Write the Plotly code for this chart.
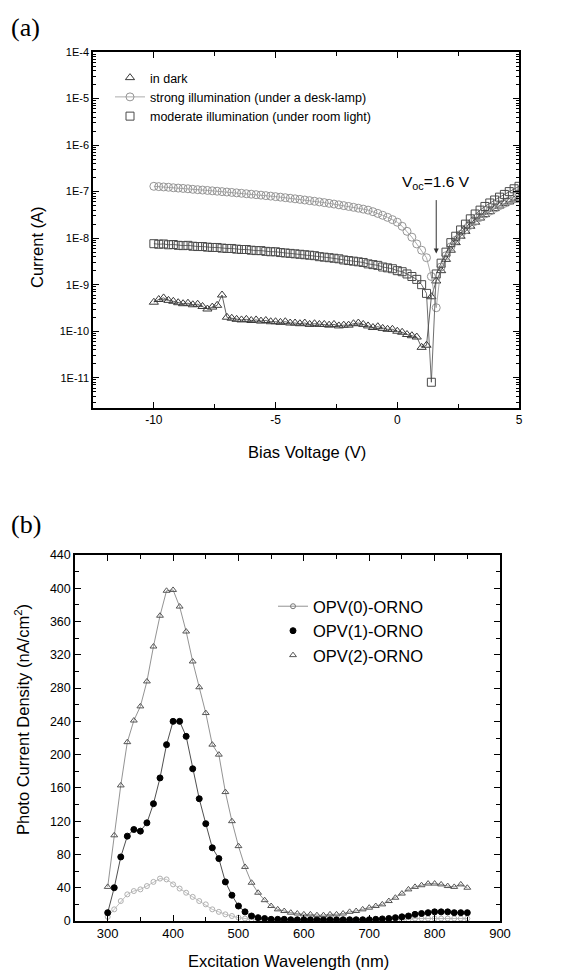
import plotly.graph_objects as go

# ---------------- Panel (a) data ----------------
bias_v = [-10.0, -9.8, -9.6, -9.4, -9.2, -9.0, -8.8, -8.6, -8.4, -8.2,
          -8.0, -7.8, -7.6, -7.4, -7.2, -7.0, -6.8, -6.6, -6.4, -6.2,
          -6.0, -5.8, -5.6, -5.4, -5.2, -5.0, -4.8, -4.6, -4.4, -4.2,
          -4.0, -3.8, -3.6, -3.4, -3.2, -3.0, -2.8, -2.6, -2.4, -2.2,
          -2.0, -1.8, -1.6, -1.4, -1.2, -1.0, -0.8, -0.6, -0.4, -0.2,
          0.0, 0.2, 0.4, 0.6, 0.8, 1.0, 1.2, 1.4, 1.6, 1.8,
          2.0, 2.2, 2.4, 2.6, 2.8, 3.0, 3.2, 3.4, 3.6, 3.8,
          4.0, 4.2, 4.4, 4.6, 4.8, 5.0]

i_dark = [4.2e-10, 4.8e-10, 5.2e-10, 4.6e-10, 4.4e-10, 4.1e-10, 3.9e-10, 4.0e-10, 3.7e-10, 3.8e-10,
          3.4e-10, 3.0e-10, 3.3e-10, 3.6e-10, 6.0e-10, 2.0e-10, 1.9e-10, 1.8e-10, 1.75e-10, 1.8e-10,
          1.7e-10, 1.75e-10, 1.65e-10, 1.7e-10, 1.6e-10, 1.6e-10, 1.55e-10, 1.6e-10, 1.5e-10, 1.5e-10,
          1.45e-10, 1.5e-10, 1.4e-10, 1.45e-10, 1.4e-10, 1.4e-10, 1.35e-10, 1.4e-10, 1.3e-10, 1.35e-10,
          1.35e-10, 1.45e-10, 1.5e-10, 1.4e-10, 1.3e-10, 1.2e-10, 1.25e-10, 1.15e-10, 1.1e-10, 1.1e-10,
          1.0e-10, 9.5e-11, 8.5e-11, 8.0e-11, 7.5e-11, 4.5e-11, 5.0e-11, 5.5e-10, 1.2e-9, 2.0e-9,
          3.5e-9, 5.5e-9, 8.0e-9, 1.1e-8, 1.4e-8, 1.8e-8, 2.2e-8, 2.7e-8, 3.2e-8, 3.7e-8,
          4.3e-8, 4.9e-8, 5.5e-8, 6.0e-8, 6.6e-8, 7.2e-8]

i_strong = [1.30e-7, 1.28e-7, 1.26e-7, 1.24e-7, 1.21e-7, 1.19e-7, 1.17e-7, 1.15e-7, 1.12e-7, 1.10e-7,
            1.08e-7, 1.06e-7, 1.04e-7, 1.02e-7, 1.0e-7, 9.8e-8, 9.6e-8, 9.4e-8, 9.2e-8, 9.0e-8,
            8.8e-8, 8.6e-8, 8.4e-8, 8.2e-8, 8.0e-8, 7.8e-8, 7.6e-8, 7.4e-8, 7.2e-8, 7.0e-8,
            6.8e-8, 6.6e-8, 6.4e-8, 6.2e-8, 6.0e-8, 5.8e-8, 5.6e-8, 5.4e-8, 5.2e-8, 5.0e-8,
            4.8e-8, 4.6e-8, 4.4e-8, 4.2e-8, 4.0e-8, 3.7e-8, 3.4e-8, 3.1e-8, 2.8e-8, 2.5e-8,
            2.2e-8, 1.8e-8, 1.4e-8, 1.05e-8, 7.5e-9, 5.5e-9, 3.8e-9, 1.5e-9, 3.2e-10, 2.4e-9,
            4.2e-9, 6.5e-9, 9.0e-9, 1.2e-8, 1.5e-8, 1.9e-8, 2.3e-8, 2.8e-8, 3.3e-8, 3.8e-8,
            4.4e-8, 5.0e-8, 5.6e-8, 6.3e-8, 7.0e-8, 7.8e-8]

i_moderate = [7.6e-9, 7.4e-9, 7.5e-9, 7.2e-9, 7.3e-9, 7.0e-9, 6.9e-9, 7.0e-9, 6.7e-9, 6.6e-9,
              6.6e-9, 6.4e-9, 6.3e-9, 6.3e-9, 6.1e-9, 6.0e-9, 6.0e-9, 5.8e-9, 5.7e-9, 5.7e-9,
              5.5e-9, 5.4e-9, 5.4e-9, 5.2e-9, 5.1e-9, 5.1e-9, 4.9e-9, 4.8e-9, 4.7e-9, 4.6e-9,
              4.5e-9, 4.4e-9, 4.3e-9, 4.2e-9, 4.0e-9, 3.9e-9, 3.8e-9, 3.7e-9, 3.6e-9, 3.4e-9,
              3.3e-9, 3.2e-9, 3.1e-9, 3.0e-9, 2.8e-9, 2.7e-9, 2.6e-9, 2.4e-9, 2.3e-9, 2.2e-9,
              2.0e-9, 1.9e-9, 1.7e-9, 1.5e-9, 1.3e-9, 1.0e-9, 6.5e-10, 8.0e-12, 1.7e-9, 2.9e-9,
              5.0e-9, 8.0e-9, 1.1e-8, 1.5e-8, 2.0e-8, 2.6e-8, 3.3e-8, 4.0e-8, 4.8e-8, 5.7e-8,
              6.6e-8, 7.6e-8, 8.7e-8, 1.0e-7, 1.15e-7, 1.3e-7]

names_a = ["in dark", "strong illumination (under a desk-lamp)", "moderate illumination (under room light)"]
y_tickvals_a = [1e-4, 1e-5, 1e-6, 1e-7, 1e-8, 1e-9, 1e-10, 1e-11]
y_ticktext_a = ["1E-4", "1E-5", "1E-6", "1E-7", "1E-8", "1E-9", "1E-10", "1E-11"]
voc_value = 1.6

# ---------------- Panel (b) data ----------------
wavelength = [300, 310, 320, 330, 340, 350, 360, 370, 380, 390,
              400, 410, 420, 430, 440, 450, 460, 470, 480, 490,
              500, 510, 520, 530, 540, 550, 560, 570, 580, 590,
              600, 610, 620, 630, 640, 650, 660, 670, 680, 690,
              700, 710, 720, 730, 740, 750, 760, 770, 780, 790,
              800, 810, 820, 830, 840, 850]

opv0 = [5, 14, 24, 32, 36, 38, 42, 47, 51, 50,
        44, 39, 34, 29, 24, 20, 14, 11, 8, 6,
        4, 3, 2, 2, 1.5, 1.5, 1.5, 1.5, 1.5, 1.5,
        1.5, 1.5, 1.5, 1.5, 1.5, 1.5, 1.5, 1.5, 1.5, 1.5,
        1.5, 1.5, 1.5, 1.5, 2, 2, 2, 3, 3, 3,
        3, 3, 3, 3, 3, 3]

opv1 = [10, 40, 77, 102, 110, 108, 118, 141, 172, 212,
        240, 240, 222, 183, 147, 117, 88, 75, 47, 31,
        18, 11, 6, 4, 3, 2, 2, 2, 1.5, 1.5,
        1.5, 1.5, 1.5, 1.5, 1.5, 1.5, 1.5, 1.5, 1.5, 1.5,
        1.5, 2, 2.5, 3, 4, 5, 6, 8, 9, 10,
        11, 11, 11, 10, 10, 10]

opv2 = [41, 103, 163, 215, 241, 258, 288, 330, 367, 397,
        398, 378, 348, 312, 281, 250, 212, 200, 155, 120,
        90, 65, 46, 34, 25, 18, 14, 12, 10, 9,
        8, 8, 7, 7, 8, 8, 9, 11, 12, 14,
        16, 18, 20, 24, 28, 33, 38, 41, 43, 45,
        45, 44, 42, 41, 44, 40]

names_b = ["OPV(0)-ORNO", "OPV(1)-ORNO", "OPV(2)-ORNO"]

FONT = "Liberation Sans, Arial, sans-serif"
SERIF = "Liberation Serif, Times New Roman, serif"

fig = go.Figure()

# ---- panel (a) traces ----
style_a = [
    dict(sym="triangle-up-open", col="#3a3a3a", lcol="#3a3a3a", y=i_dark, leg_mode="markers"),
    dict(sym="circle-open", col="#959595", lcol="#959595", y=i_strong, leg_mode="lines+markers"),
    dict(sym="square-open", col="#4a4a4a", lcol="#4a4a4a", y=i_moderate, leg_mode="markers"),
]
for nm, st in zip(names_a, style_a):
    fig.add_trace(go.Scatter(
        x=bias_v, y=st["y"], mode="lines+markers", xaxis="x", yaxis="y",
        marker=dict(symbol=st["sym"], size=8, color=st["col"], line=dict(width=1, color=st["col"])),
        line=dict(color=st["lcol"], width=0.8), showlegend=False, name=nm))
for nm, st in zip(names_a, style_a):
    fig.add_trace(go.Scatter(
        x=[None], y=[None], mode=st["leg_mode"], xaxis="x", yaxis="y",
        marker=dict(symbol=st["sym"], size=8, color=st["col"], line=dict(width=1, color=st["col"])),
        line=dict(color=st["lcol"], width=0.8), name=nm, legend="legend"))

# ---- panel (b) traces ----
style_b = [
    dict(y=opv0, sym="circle-open", size=5, col="#b0b0b0", lcol="#b0b0b0", leg_mode="lines+markers", legcol="#777777"),
    dict(y=opv1, sym="circle", size=6, col="#000000", lcol="#222222", leg_mode="markers", legcol="#000000"),
    dict(y=opv2, sym="triangle-up-open", size=6, col="#555555", lcol="#777777", leg_mode="markers", legcol="#555555"),
]
for nm, st in zip(names_b, style_b):
    fig.add_trace(go.Scatter(
        x=wavelength, y=st["y"], mode="lines+markers", xaxis="x2", yaxis="y2",
        marker=dict(symbol=st["sym"], size=st["size"], color=st["col"], line=dict(width=1, color=st["col"])),
        line=dict(color=st["lcol"], width=0.8), showlegend=False, name=nm))
for nm, st in zip(names_b, style_b):
    fig.add_trace(go.Scatter(
        x=[None], y=[None], mode=st["leg_mode"], xaxis="x2", yaxis="y2",
        marker=dict(symbol=st["sym"], size=st["size"], color=st["legcol"], line=dict(width=1, color=st["legcol"])),
        line=dict(color=st["legcol"], width=0.8), name=nm, legend="legend2"))

# the page body has an 8px default margin, so the figure starts at (8, 8)
OFF = 8
W, H = 562 - OFF, 973 - OFF

def px_x(p):
    return (p - OFF) / W

def px_y(p):
    return 1 - (p - OFF) / H

axis_common = dict(showline=True, linecolor="black", linewidth=1.5, mirror="allticks",
                   ticks="inside", tickcolor="black", ticklen=6, tickwidth=1.2,
                   showgrid=False, zeroline=False, automargin=False)

fig.update_layout(
    width=W, height=H, margin=dict(l=0, r=0, t=0, b=0),
    paper_bgcolor="white", plot_bgcolor="white",
    font=dict(family=FONT, color="black"),
    xaxis=dict(domain=[px_x(93), px_x(519)], anchor="y", range=[-12.5, 5],
               tickmode="array", tickvals=[-10, -5, 0, 5], ticktext=["-10", "-5", "0", "5"],
               tickfont=dict(size=12, family=FONT),
               minor=dict(tickmode="linear", tick0=0, dtick=2.5, ticks="inside", ticklen=4, tickcolor="black"),
               **axis_common),
    yaxis=dict(domain=[px_y(408), px_y(52)], anchor="x", type="log", range=[-11.65, -4],
               tickmode="array", tickvals=y_tickvals_a, ticktext=y_ticktext_a,
               tickfont=dict(size=11, family=FONT),
               minor=dict(dtick="D1", ticks="inside", ticklen=3, tickcolor="black"),
               **axis_common),
    xaxis2=dict(domain=[px_x(75), px_x(500)], anchor="y2", range=[250, 900],
                tickmode="linear", tick0=300, dtick=100,
                tickfont=dict(size=13, family=FONT),
                minor=dict(tickmode="linear", tick0=250, dtick=50, ticks="inside", ticklen=4, tickcolor="black"),
                **axis_common),
    yaxis2=dict(domain=[px_y(921), px_y(555)], anchor="x2", range=[0, 440],
                tickmode="linear", tick0=0, dtick=40,
                tickfont=dict(size=12.5, family=FONT),
                minor=dict(tickmode="linear", tick0=0, dtick=20, ticks="inside", ticklen=4, tickcolor="black"),
                **axis_common),
    legend=dict(x=px_x(110), y=px_y(63), xanchor="left", yanchor="top",
                bgcolor="rgba(0,0,0,0)", font=dict(size=12.5, family=FONT),
                itemwidth=30, tracegroupgap=0),
    legend2=dict(x=px_x(273), y=px_y(589), xanchor="left", yanchor="top",
                 bgcolor="rgba(0,0,0,0)", font=dict(size=16.5, family=FONT),
                 itemwidth=30, tracegroupgap=0),
)

def ptext(text, x, y, size=16.5, angle=0, family=FONT, xanchor="center"):
    return dict(text=text, x=px_x(x), y=px_y(y), xref="paper", yref="paper",
                xanchor=xanchor, yanchor="middle", textangle=angle,
                showarrow=False, font=dict(size=size, family=family))

annotations = [
    ptext("(a)", 9, 28, size=26, family=SERIF, xanchor="left"),
    ptext("(b)", 9, 524, size=26, family=SERIF, xanchor="left"),
    ptext("Current (A)", 37, 247, angle=-90),
    ptext("Bias Voltage (V)", 307, 452),
    ptext("Photo Current Density (nA/cm<sup>2</sup>)", 22, 720, angle=-90),
    ptext("Excitation Wavelength (nm)", 288, 961),
    dict(text="V<sub>oc</sub>=1.6 V", x=voc_value, y=-6.8, xref="x", yref="y",
         xanchor="center", yanchor="middle",
         showarrow=False, font=dict(size=15.5, family=FONT)),
    dict(text="", x=voc_value, y=-8.33, xref="x", yref="y", ax=voc_value, ay=-7.15, axref="x", ayref="y",
         showarrow=True, arrowhead=2, arrowsize=1, arrowwidth=1, arrowcolor="#333333"),
]
fig.update_layout(annotations=annotations)

fig.write_html("out.html")
